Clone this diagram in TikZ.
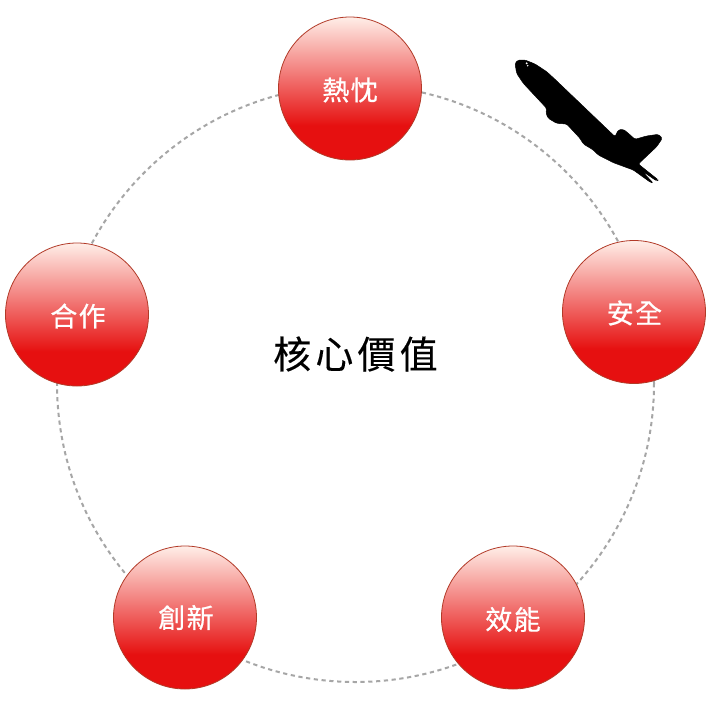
\documentclass[tikz,border=0pt]{standalone}
\usepackage{fontspec}
\newfontfamily\cjk[LetterSpace=5,FakeBold=0.6]{Noto Sans CJK TC}
\newfontfamily\cjkwide[LetterSpace=11,FakeBold=0.25]{Noto Sans CJK TC}
\definecolor{ballTop}{HTML}{FFEEE8}
\definecolor{ballLow}{HTML}{E61010}
\definecolor{ballEdge}{HTML}{B23A28}
\definecolor{ringGrey}{HTML}{A6A6A6}
\pgfdeclareverticalshading{redball}{100bp}{
  color(0bp)=(ballLow); color(37bp)=(ballLow); color(75bp)=(ballTop); color(100bp)=(ballTop)}
\tikzset{
  ball/.style={circle,draw=ballEdge,line width=0.8pt,shading=redball,minimum size=143pt,inner sep=0pt},
  balltext/.style={text=white,inner sep=0pt,font=\cjk\fontsize{27}{32}\selectfont},
  ring/.style={draw=ringGrey,line width=2pt,dash pattern=on 4.2pt off 3.6pt},
}
\begin{document}
\begin{tikzpicture}[x=1pt,y=-1pt]
\useasboundingbox (0,0) rectangle (710,705);
\fill[white] (0,0) rectangle (710,705);
\coordinate (hub) at (355.5,383.5);
\draw[ring] (hub) circle[radius=298.5pt];
\node[ball] (n1) at (350,88.5) {};
\node[ball] (n2) at (634,312) {};
\node[ball] (n3) at (513,617.5) {};
\node[ball] (n4) at (185,617.5) {};
\node[ball] (n5) at (77,314.5) {};
\node[balltext] (t1) at (350,90) {熱忱};
\node[balltext] (t2) at (634.5,313) {安全};
\node[balltext] (t3) at (513,619.5) {效能};
\node[balltext] (t4) at (186,617.5) {創新};
\node[balltext] (t5) at (78,316) {合作};
\node[font=\cjkwide\fontsize{38}{44}\selectfont,text=black,inner sep=0pt] (title) at (355.5,354) {核心價值};
% aeroplane silhouette
\begin{scope}[shift={(500,40)},x=0.3333pt,y=-0.3333pt]
\filldraw[black,line width=0.5pt,rounded corners=1.5pt] (45,70) -- (55,60) -- (75,60) -- (105,72) -- (140,95) -- (165,118)
 -- (345,290) -- (355,270) -- (370,268) -- (385,280) -- (405,298) -- (440,288) -- (475,283) -- (487,295)
 -- (470,320) -- (415,372) -- (475,420) -- (470,423) -- (425,392) -- (460,430) -- (450,426) -- (400,390)
 -- (340,368) -- (295,345) -- (280,330) -- (250,312) -- (240,295) -- (200,252) -- (170,250) -- (145,235)
 -- (138,220) -- (140,205) -- (70,130) -- (50,100) -- cycle;
\fill[white] (80,70) circle[radius=3.2] (83,77) circle[radius=2.5];
\end{scope}
\end{tikzpicture}
\end{document}
